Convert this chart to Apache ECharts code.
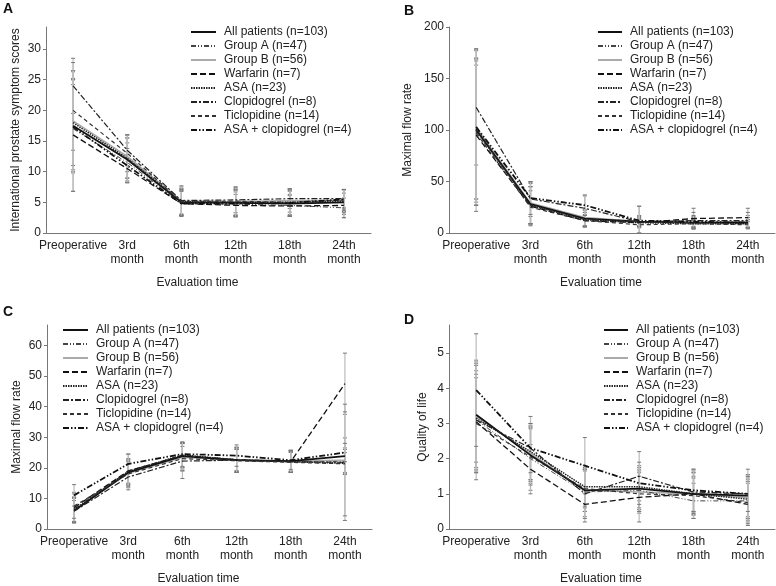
<!DOCTYPE html>
<html>
<head>
<meta charset="utf-8">
<script src="https://cdn.jsdelivr.net/npm/echarts@6.0.0/dist/echarts.min.js"></script>
<style>
  html, body { margin: 0; padding: 0; background: #fff; }
  #chart { width: 776px; height: 586px; }
</style>
</head>
<body>
<div id="chart"></div>
<script>
const categories = ['Preoperative', '3rd\nmonth', '6th\nmonth', '12th\nmonth', '18th\nmonth', '24th\nmonth'];
const seriesNames = [
  'All patients (n=103)', 'Group A (n=47)', 'Group B (n=56)', 'Warfarin (n=7)',
  'ASA (n=23)', 'Clopidogrel (n=8)', 'Ticlopidine (n=14)', 'ASA + clopidogrel (n=4)'
];

// A: IPSS (rows follow seriesNames)
const ipssMean = [
  [17.5, 12.0, 5.0, 4.9, 4.8, 5.0],
  [17.0, 11.5, 4.9, 4.7, 4.5, 4.1],
  [18.3, 12.5, 5.2, 5.1, 5.3, 5.3],
  [16.0, 10.5, 4.8, 4.5, 4.4, 4.5],
  [18.0, 12.2, 5.1, 5.0, 5.0, 5.2],
  [24.0, 13.5, 5.3, 5.4, 5.6, 5.6],
  [20.0, 13.0, 5.1, 5.2, 5.0, 5.4],
  [17.3, 11.0, 4.8, 4.8, 4.9, 5.5]
];
const ipssSd = [
  [7.5, 3.5, 2.2, 2.1, 2.0, 2.0],
  [7.2, 3.2, 2.0, 2.0, 1.8, 1.6],
  [8.0, 3.5, 2.3, 2.2, 1.9, 1.8],
  [9.2, 2.3, 2.1, 1.8, 1.7, 2.0],
  [7.0, 3.3, 2.1, 2.1, 2.0, 1.9],
  [4.5, 2.5, 2.4, 2.1, 1.6, 1.5],
  [6.5, 3.0, 2.0, 2.3, 2.2, 1.7],
  [10.5, 2.8, 2.0, 2.2, 2.1, 1.6]
];
const ipssTicks = [0, 5, 10, 15, 20, 25, 30];

// B: maximal flow rate
const flowMeanB = [
  [100, 28, 14, 11, 10, 10],
  [98, 27, 13, 11, 10, 9],
  [102, 29, 15, 11, 10, 11],
  [95, 26, 12, 10, 14, 15],
  [101, 27, 13, 10, 9, 9],
  [122, 33, 24, 11, 12, 12],
  [97, 25, 12, 8, 9, 8],
  [103, 34, 27, 12, 11, 10]
];
const flowSdB = [
  [70, 20, 8, 5, 5, 5],
  [65, 18, 7, 4, 4, 4],
  [75, 20, 8, 6, 6, 6],
  [74, 19, 6, 3, 10, 9],
  [68, 18, 7, 4, 4, 4],
  [56, 17, 12, 15, 8, 8],
  [70, 16, 5, 2, 3, 3],
  [76, 16, 10, 14, 6, 5]
];
const flowTicksB = [0, 50, 100, 150, 200];

// C: maximal flow rate
const flowMeanC = [
  [6.0, 18.5, 23.8, 22.5, 22.2, 23.8],
  [6.5, 19.0, 24.0, 22.8, 22.0, 22.0],
  [6.2, 18.2, 23.5, 22.5, 22.3, 22.5],
  [7.0, 19.0, 24.0, 22.5, 22.0, 47.5],
  [6.3, 18.8, 24.2, 22.6, 22.0, 21.5],
  [5.8, 17.0, 22.2, 22.5, 22.0, 21.8],
  [7.5, 18.0, 23.0, 22.3, 21.8, 21.3],
  [11.0, 21.3, 24.5, 24.0, 22.5, 25.0]
];
const flowSdC = [
  [4.0, 4.0, 4.5, 4.0, 3.5, 6.0],
  [4.0, 4.0, 4.0, 4.0, 3.5, 4.0],
  [4.0, 4.0, 4.5, 4.0, 3.5, 4.0],
  [5.0, 5.5, 4.0, 3.5, 3.0, 10.0],
  [4.0, 4.0, 4.0, 4.0, 3.5, 3.5],
  [3.5, 4.2, 5.7, 3.5, 3.5, 19.0],
  [4.0, 4.0, 4.0, 3.8, 3.3, 17.0],
  [3.5, 3.2, 4.0, 3.5, 3.0, 3.0]
];
const flowTicksC = [0, 10, 20, 30, 40, 50, 60];

// D: quality of life
const qolMean = [
  [3.25, 2.10, 1.10, 1.15, 1.00, 0.95],
  [3.10, 2.00, 1.05, 1.10, 0.80, 0.80],
  [3.20, 2.15, 1.10, 1.05, 1.00, 0.90],
  [3.05, 1.70, 0.70, 0.90, 1.00, 0.70],
  [3.15, 2.20, 1.20, 1.20, 1.00, 0.85],
  [3.10, 2.30, 1.00, 1.50, 1.05, 1.00],
  [3.00, 2.05, 1.15, 1.00, 0.95, 0.75],
  [3.95, 2.30, 1.80, 1.30, 1.10, 1.00]
];
const qolSd = [
  [1.5, 0.8, 0.6, 0.6, 0.6, 0.6],
  [1.4, 0.9, 0.7, 0.6, 0.5, 0.6],
  [1.6, 0.8, 0.6, 0.6, 0.6, 0.6],
  [1.65, 0.7, 0.5, 0.7, 0.7, 0.6],
  [1.5, 0.8, 0.6, 0.6, 0.5, 0.6],
  [1.2, 0.9, 0.7, 0.7, 0.6, 0.7],
  [1.4, 0.8, 0.5, 0.5, 0.5, 0.6],
  [1.6, 0.7, 0.8, 0.6, 0.6, 0.5]
];
const qolTicks = [0, 1, 2, 3, 4, 5];

const lineStyles = [
  { color: '#111', width: 1.8, type: 'solid' },
  { color: '#444', width: 1, type: [5, 2, 1, 2, 1, 2] },
  { color: '#aaa', width: 1.6, type: 'solid' },
  { color: '#111', width: 1.3, type: [6, 3] },
  { color: '#222', width: 1.5, type: [1.5, 1] },
  { color: '#222', width: 1.2, type: [6, 2, 2, 2] },
  { color: '#333', width: 1.2, type: [4, 3] },
  { color: '#111', width: 1.8, type: [6, 2, 1.5, 2, 1.5, 2] }
];

const panels = [
  { letter: 'A', grid: { left: 46, top: 27, width: 325, height: 206 }, max: 33.6, ticks: ipssTicks,
    yName: 'International prostate symptom scores', yGap: 24, mean: ipssMean, sd: ipssSd,
    legend: { left: 190, top: 26 }, itemW: 25, title: { left: 3, top: 2 } },
  { letter: 'B', grid: { left: 449, top: 27, width: 326, height: 206 }, max: 200, ticks: flowTicksB,
    yName: 'Maximal flow rate', yGap: 35, mean: flowMeanB, sd: flowSdB,
    legend: { left: 597, top: 26 }, itemW: 24, title: { left: 404, top: 4 } },
  { letter: 'C', grid: { left: 47, top: 325, width: 325, height: 206 }, max: 66.7, ticks: flowTicksC,
    yName: 'Maximal flow rate', yGap: 24, mean: flowMeanC, sd: flowSdC,
    legend: { left: 62, top: 324 }, itemW: 25, title: { left: 3, top: 305 } },
  { letter: 'D', grid: { left: 449, top: 325, width: 326, height: 206 }, max: 5.8, ticks: qolTicks,
    yName: 'Quality of life', yGap: 20, mean: qolMean, sd: qolSd,
    legend: { left: 603, top: 324 }, itemW: 24, title: { left: 404, top: 313 } }
];

const font = 'Liberation Sans, Arial, Helvetica, sans-serif';
const axisColor = '#777';

function renderErr(params, api) {
  const x = api.value(0);
  const lo = api.coord([x, api.value(1)]);
  const hi = api.coord([x, api.value(2)]);
  const cw = 2;
  return {
    type: 'group',
    children: [
      { type: 'line', shape: { x1: lo[0], y1: lo[1], x2: hi[0], y2: hi[1] }, style: { stroke: '#bbb', lineWidth: 1.2 } },
      { type: 'line', shape: { x1: lo[0] - cw, y1: lo[1], x2: lo[0] + cw, y2: lo[1] }, style: { stroke: '#777', lineWidth: 1 } },
      { type: 'line', shape: { x1: hi[0] - cw, y1: hi[1], x2: hi[0] + cw, y2: hi[1] }, style: { stroke: '#777', lineWidth: 1 } }
    ]
  };
}

const option = {
  animation: false,
  backgroundColor: '#fff',
  textStyle: { fontFamily: font },
  title: [], grid: [], xAxis: [], yAxis: [], legend: [], series: []
};

panels.forEach((p, i) => {
  option.title.push({
    text: p.letter, left: p.title.left, top: p.title.top, padding: 0,
    textStyle: { fontSize: 14, fontWeight: 'bold', color: '#111', fontFamily: font }
  });
  option.grid.push(Object.assign({ containLabel: false }, p.grid));
  option.xAxis.push({
    type: 'category', gridIndex: i, data: categories, boundaryGap: true,
    name: 'Evaluation time', nameLocation: 'middle', nameGap: 44,
    nameTextStyle: { fontSize: 12, color: '#222', fontFamily: font, padding: [0, 22, 0, 0] },
    axisLine: { lineStyle: { color: axisColor, width: 1 } },
    axisTick: { length: 4, lineStyle: { color: axisColor } },
    axisLabel: { fontSize: 12, color: '#222', lineHeight: 14, margin: 6, interval: 0, fontFamily: font },
    splitLine: { show: false }
  });
  option.yAxis.push({
    type: 'value', gridIndex: i, min: 0, max: p.max,
    name: p.yName, nameLocation: 'middle', nameGap: p.yGap, nameRotate: 90,
    nameTextStyle: { fontSize: 12, color: '#222', fontFamily: font },
    axisLine: { show: true, lineStyle: { color: axisColor, width: 1 } },
    axisTick: { show: true, length: 3, customValues: p.ticks, lineStyle: { color: axisColor } },
    axisLabel: { fontSize: 12, color: '#222', margin: 5, customValues: p.ticks, fontFamily: font },
    splitLine: { show: false }
  });
  option.legend.push({
    orient: 'vertical', left: p.legend.left, top: p.legend.top, padding: 0,
    data: seriesNames, itemWidth: p.itemW, itemHeight: 10, itemGap: 2, selectedMode: false,
    itemStyle: { opacity: 0 },
    formatter: name => '{t|' + name + '}',
    textStyle: {
      fontSize: 12, color: '#222', lineHeight: 12, fontFamily: font,
      rich: { t: { fontSize: 12, color: '#222', lineHeight: 12, fontFamily: font, padding: [0, 0, 0, 3] } }
    }
  });
  const errData = [];
  p.mean.forEach((row, s) => {
    row.forEach((m, t) => {
      const d = p.sd[s][t];
      errData.push([t, Math.max(0, m - d), m + d]);
    });
  });
  option.series.push({
    type: 'custom', name: 'err' + p.letter, xAxisIndex: i, yAxisIndex: i,
    renderItem: renderErr, data: errData, encode: { x: 0, y: [1, 2] }, z: 1, silent: true
  });
  p.mean.forEach((row, s) => {
    option.series.push({
      type: 'line', name: seriesNames[s], xAxisIndex: i, yAxisIndex: i,
      data: row, symbol: 'none', showSymbol: false, z: s === 2 ? 2 : 3,
      lineStyle: Object.assign({}, lineStyles[s]),
      itemStyle: { color: 'rgba(0,0,0,0)', borderWidth: 0 }
    });
  });
});

const chart = echarts.init(document.getElementById('chart'));
chart.setOption(option);
</script>
</body>
</html>
